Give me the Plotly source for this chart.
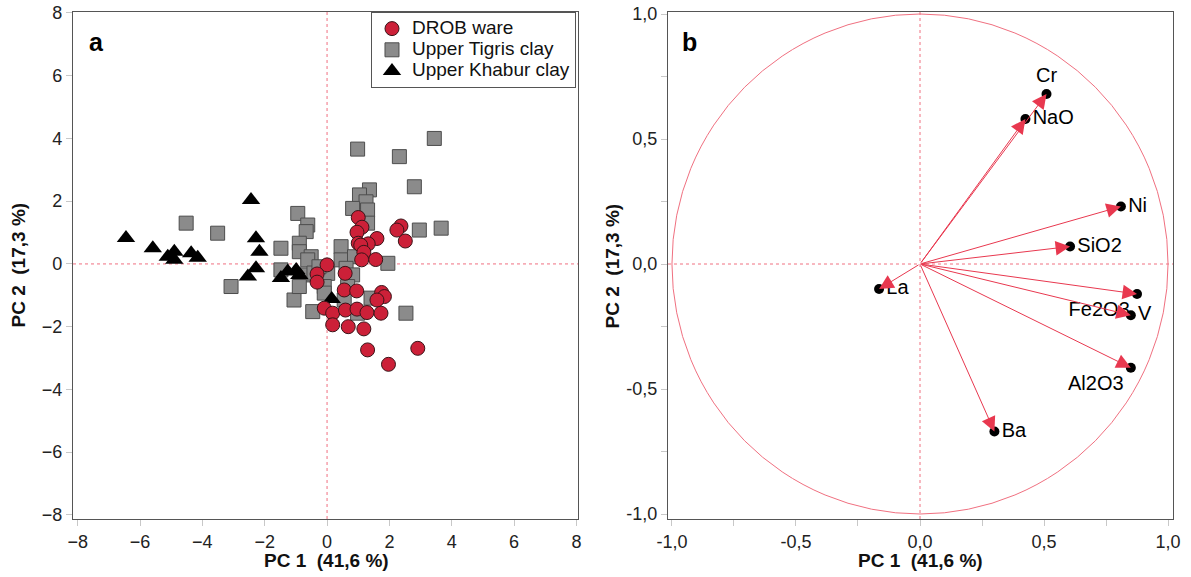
import plotly.graph_objects as go

# ---------------- Panel a: PCA scores ----------------
drob_x = [1.00, 1.12, 0.96, 1.60, 1.00, 1.32, 1.08, 1.18, 1.11, 1.56, 2.37, 2.24, 2.51,
          0.00, -0.32, -0.32, 0.58, 0.55, 0.95, 1.75, 1.84, 1.60, -0.09, 0.18, 0.59,
          0.96, 1.28, 1.73, 0.18, 0.68, 1.18, 1.30, 2.91, 1.97]
drob_y = [1.48, 1.17, 1.01, 0.81, 0.66, 0.64, 0.60, 0.37, 0.13, 0.14, 1.21, 1.08, 0.73,
          -0.03, -0.32, -0.58, -0.30, -0.83, -0.86, -0.91, -1.04, -1.15, -1.41, -1.57, -1.47,
          -1.44, -1.55, -1.57, -1.94, -2.00, -2.07, -2.74, -2.69, -3.20]

tigris_x = [-4.52, -3.51, -3.08, -1.48, -1.48, -1.06, -0.94, -0.62, -0.67, -0.89, -0.89,
            -0.51, -0.62, -0.73, -0.42, -0.89, -0.46, 0.02, -0.09, -0.09, -0.26, 0.45,
            0.45, 0.88, 0.61, 0.82, 0.66, 0.55, 0.98, 1.41, 1.95, 2.53, 0.98, 2.32, 3.44,
            2.80, 1.36, 1.04, 1.25, 0.82, 1.30, 1.30, 2.96, 3.66]
tigris_y = [1.30, 0.98, -0.72, 0.50, -0.19, -1.15, 1.61, 1.24, 1.03, 0.66, 0.39,
            0.23, 0.13, -0.35, -0.29, -0.72, -1.52, -0.30, -0.72, -0.93, -0.09, 0.55,
            0.13, 0.23, -0.14, -0.35, -0.72, -1.15, -1.57, -1.09, 0.02, -1.57, 3.66, 3.42, 4.00,
            2.46, 2.36, 2.20, 1.98, 1.77, 1.72, 1.30, 1.08, 1.14]

khabur_x = [-6.45, -5.59, -5.11, -4.90, -4.90, -4.36, -4.15, -2.44, -2.28, -2.17,
            -2.28, -2.54, -1.48, -1.26, -0.99, -0.89, 0.15]
khabur_y = [0.83, 0.50, 0.23, 0.39, 0.13, 0.34, 0.20, 2.04, 0.82, 0.39,
            -0.14, -0.40, -0.45, -0.24, -0.19, -0.35, -1.12]

series_names = ["DROB ware", "Upper Tigris clay", "Upper Khabur clay"]

# ---------------- Panel b: loadings ----------------
var_names = ["Cr", "NaO", "Ni", "SiO2", "Fe2O3", "V", "Al2O3", "La", "Ba"]
var_x = [0.51, 0.425, 0.81, 0.605, 0.875, 0.85, 0.85, -0.165, 0.30]
var_y = [0.68, 0.58, 0.23, 0.07, -0.12, -0.205, -0.415, -0.10, -0.67]
var_textpos = ["top center", "middle right", "middle right", "middle right", "bottom left",
               "middle right", "bottom left", "middle right", "middle right"]
origin = (0.0, 0.0)

x1_ticks = [-8, -6, -4, -2, 0, 2, 4, 6, 8]
y1_ticks = [-8, -6, -4, -2, 0, 2, 4, 6, 8]
x2_ticks = [-1.0, -0.75, -0.5, -0.25, 0.0, 0.25, 0.5, 0.75, 1.0]
x2_labels = ["-1,0", "", "-0,5", "", "0,0", "", "0,5", "", "1,0"]
y2_ticks = [-1.0, -0.75, -0.5, -0.25, 0.0, 0.25, 0.5, 0.75, 1.0]
y2_labels = ["-1,0", "", "-0,5", "", "0,0", "", "0,5", "", "1,0"]

x_title = "PC 1  (41,6 %)"
y_title = "PC 2  (17,3 %)"

FONT = "Liberation Sans, Arial, Helvetica, sans-serif"
RED = "#cc2038"
ARROW = "#e8384f"
PINK = "#f07080"


def legend_label(s):
    return "<span style='font-size:19px'>" + s + "</span>"


fig = go.Figure()

fig.add_trace(go.Scatter(
    x=tigris_x, y=tigris_y, mode="markers", name=legend_label(series_names[1]), legendrank=2,
    marker=dict(symbol="square", size=14, color="#8b8b8b", line=dict(color="#4d4d4d", width=1)),
    xaxis="x", yaxis="y"))
fig.add_trace(go.Scatter(
    x=khabur_x, y=khabur_y, mode="markers", name=legend_label(series_names[2]), legendrank=3,
    marker=dict(symbol="triangle-up", size=16, color="black", line=dict(color="black", width=0)),
    xaxis="x", yaxis="y"))
fig.add_trace(go.Scatter(
    x=drob_x, y=drob_y, mode="markers", name=legend_label(series_names[0]), legendrank=1,
    marker=dict(symbol="circle", size=14, color=RED, line=dict(color="#3a1418", width=1)),
    xaxis="x", yaxis="y"))

fig.add_trace(go.Scatter(
    x=var_x, y=var_y, mode="markers+text", text=var_names, textposition=var_textpos,
    textfont=dict(size=20, color="black", family=FONT),
    marker=dict(symbol="circle", size=10, color="black"),
    showlegend=False, xaxis="x2", yaxis="y2", cliponaxis=False))

for vx, vy in zip(var_x, var_y):
    fig.add_annotation(x=vx, y=vy, ax=origin[0], ay=origin[1], xref="x2", yref="y2",
                       axref="x2", ayref="y2", text="", showarrow=True, arrowhead=2,
                       arrowsize=2.9, arrowwidth=1, arrowcolor=ARROW)

shapes = []
for xa, ya in (("x", "y"), ("x2", "y2")):
    shapes.append(dict(type="line", xref=xa, yref=ya + " domain", x0=0, x1=0, y0=0, y1=1,
                       line=dict(color=PINK, width=1, dash="dot"), layer="below"))
    shapes.append(dict(type="line", xref=xa + " domain", yref=ya, x0=0, x1=1, y0=0, y1=0,
                       line=dict(color=PINK, width=1, dash="dot"), layer="below"))
shapes.append(dict(type="circle", xref="x2", yref="y2", x0=-1, y0=-1, x1=1, y1=1,
                   line=dict(color=PINK, width=1), layer="below"))

axis_common = dict(showgrid=False, zeroline=False, showline=True, mirror=True,
                   linecolor="#555555", linewidth=1.3, ticks="outside", ticklen=6,
                   tickcolor="#c8c8c8", tickwidth=1, automargin=False,
                   tickfont=dict(size=18, color="#222222", family=FONT))
title_font = dict(size=19, color="#111111", family=FONT)

fig.update_layout(
    width=1191, height=577,
    margin=dict(l=73, r=18, t=12, b=58),
    paper_bgcolor="white", plot_bgcolor="white",
    font=dict(family=FONT, color="#111111"),
    shapes=shapes,
    xaxis=dict(domain=[0, 0.4591], range=[-8.15, 8.05], tickvals=x1_ticks, **axis_common),
    yaxis=dict(domain=[0, 1], range=[-8.13, 8.03], tickvals=y1_ticks, **axis_common),
    xaxis2=dict(domain=[0.5409, 1], range=[-1.016, 1.02], anchor="y2",
                tickvals=x2_ticks, ticktext=x2_labels, **axis_common),
    yaxis2=dict(domain=[0, 1], range=[-1.02, 1.008], anchor="x2",
                tickvals=y2_ticks, ticktext=y2_labels, **axis_common),
    legend=dict(x=0.2709, y=1, xanchor="left", yanchor="top",
                bordercolor="#555555", borderwidth=1, bgcolor="white",
                font=dict(size=14, color="#111111", family=FONT),
                tracegroupgap=0),
    showlegend=True,
)

# axis titles
for xc in (0.2309, 0.7700):
    fig.add_annotation(text="<b>" + x_title + "</b>", x=xc, y=-0.0828, xref="paper", yref="paper",
                       showarrow=False, font=title_font, xanchor="center", yanchor="middle")
for xc in (-0.050, 0.4909):
    fig.add_annotation(text="<b>" + y_title + "</b>", x=xc, y=0.5, xref="paper", yref="paper",
                       showarrow=False, font=title_font, textangle=-90,
                       xanchor="center", yanchor="middle")

# panel letters
for letter, xc in (("a", 0.0218), ("b", 0.5609)):
    fig.add_annotation(text="<b>" + letter + "</b>", x=xc, y=0.9408, xref="paper", yref="paper",
                       showarrow=False, font=dict(size=25, color="black", family=FONT),
                       xanchor="center", yanchor="middle")

fig.write_html("out.html")
